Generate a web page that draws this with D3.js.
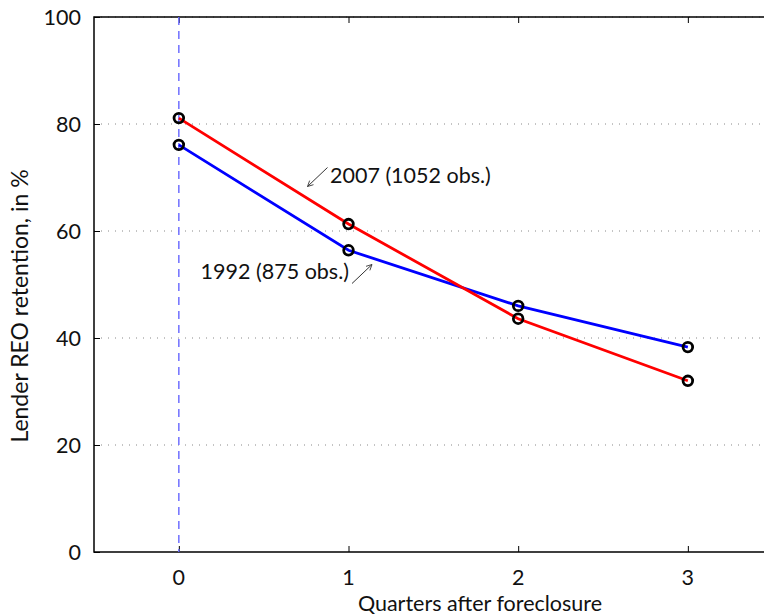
<!DOCTYPE html>
<html>
<head>
<meta charset="utf-8">
<script src="https://cdn.jsdelivr.net/npm/d3@7"></script>
<style>
  html, body { margin: 0; padding: 0; background: #fff; }
  svg { display: block; font-family: Lato, "DejaVu Sans", sans-serif; }
</style>
</head>
<body>
<svg id="chart" width="764" height="616"></svg>
<script>
// Quarters after foreclosure and lender REO retention (%)
const quarters = [0, 1, 2, 3];
const retention2007 = [81.1, 61.3, 43.6, 32.0];
const retention1992 = [76.1, 56.4, 46.0, 38.3];
const xTicks = [0, 1, 2, 3];
const yTicks = [0, 20, 40, 60, 80, 100];
const gridLevels = [20, 40, 60, 80, 100];

(function draw() {
  const svg = d3.select("#chart");
  const plotLeft = 94, plotRight = 866, plotTop = 17, plotBottom = 552;

  const x = d3.scaleLinear().domain([-0.5, 4.05]).range([plotLeft, plotRight]);
  const y = d3.scaleLinear().domain([0, 100]).range([plotBottom, plotTop]);

  // dotted horizontal grid
  svg.append("g").selectAll("line").data(gridLevels).join("line")
    .attr("x1", plotLeft).attr("x2", plotRight)
    .attr("y1", d => y(d)).attr("y2", d => y(d))
    .attr("stroke", "#888").attr("stroke-width", 1)
    .attr("stroke-dasharray", "1,6");

  // frame (left, bottom, top)
  svg.append("path")
    .attr("d", `M${plotRight},${plotTop}H${plotLeft}V${plotBottom}H${plotRight}`)
    .attr("fill", "none").attr("stroke", "#000").attr("stroke-width", 1.5);

  // axes with inward ticks
  const fs = "21.5px";
  const yAxis = svg.append("g").attr("transform", `translate(${plotLeft},0)`)
    .call(d3.axisRight(y).tickValues(yTicks).tickSize(6).tickFormat(""));
  yAxis.select(".domain").remove();
  yAxis.selectAll("line").attr("stroke", "#000");

  svg.append("g").selectAll("text").data(yTicks).join("text")
    .attr("x", plotLeft - 13).attr("y", d => y(d)).attr("dy", "0.36em")
    .attr("text-anchor", "end").style("font-size", fs).attr("fill", "#111")
    .text(d => d);

  const xAxisB = svg.append("g").attr("transform", `translate(0,${plotBottom})`)
    .call(d3.axisTop(x).tickValues(xTicks).tickSize(6).tickFormat(""));
  xAxisB.select(".domain").remove();
  xAxisB.selectAll("line").attr("stroke", "#000");

  const xAxisT = svg.append("g").attr("transform", `translate(0,${plotTop})`)
    .call(d3.axisBottom(x).tickValues(xTicks).tickSize(6).tickFormat(""));
  xAxisT.select(".domain").remove();
  xAxisT.selectAll("line").attr("stroke", "#000");

  svg.append("g").selectAll("text").data(xTicks).join("text")
    .attr("x", d => x(d)).attr("y", plotBottom + 33)
    .attr("text-anchor", "middle").style("font-size", fs).attr("fill", "#111")
    .text(d => d);

  // axis titles
  svg.append("text")
    .attr("x", (plotLeft + plotRight) / 2).attr("y", 611)
    .attr("text-anchor", "middle").style("font-size", fs).attr("fill", "#111")
    .text("Quarters after foreclosure");

  svg.append("text")
    .attr("transform", "translate(28,306) rotate(-90)")
    .attr("text-anchor", "middle").style("font-size", "23px").attr("fill", "#111")
    .text("Lender REO retention, in %");

  // foreclosure quarter marker
  svg.append("line")
    .attr("x1", x(0)).attr("x2", x(0)).attr("y1", plotTop).attr("y2", plotBottom)
    .attr("stroke", "#6f6fff").attr("stroke-width", 1.5)
    .attr("stroke-dasharray", "8,6");

  // series lines
  const line = d3.line().x((d, i) => x(quarters[i])).y(d => y(d));
  const series = [
    { values: retention1992, color: "#0000ff" },
    { values: retention2007, color: "#ff0000" }
  ];
  series.forEach(s => {
    svg.append("path").datum(s.values)
      .attr("d", line).attr("fill", "none")
      .attr("stroke", s.color).attr("stroke-width", 2.8);
  });
  series.forEach(s => {
    svg.append("g").selectAll("circle").data(s.values).join("circle")
      .attr("cx", (d, i) => x(quarters[i])).attr("cy", d => y(d))
      .attr("r", 4.8).attr("fill", "none")
      .attr("stroke", "#000").attr("stroke-width", 2.8);
  });

  // annotations with arrows
  const defs = svg.append("defs");
  defs.append("marker").attr("id", "arrowhead")
    .attr("viewBox", "0 0 10 10").attr("refX", 9).attr("refY", 5)
    .attr("markerWidth", 7).attr("markerHeight", 7).attr("orient", "auto")
    .append("path").attr("d", "M1,1 L9,5 L1,9").attr("fill", "none")
    .attr("stroke", "#333").attr("stroke-width", 1.2);

  svg.append("line")
    .attr("x1", 327.5).attr("y1", 167.5).attr("x2", 307.5).attr("y2", 186.5)
    .attr("stroke", "#333").attr("stroke-width", 1)
    .attr("marker-end", "url(#arrowhead)");
  svg.append("text").attr("x", 330).attr("y", 183)
    .style("font-size", fs).attr("fill", "#111")
    .text("2007 (1052 obs.)");

  svg.append("line")
    .attr("x1", 352).attr("y1", 283.5).attr("x2", 372).attr("y2", 264.5)
    .attr("stroke", "#333").attr("stroke-width", 1)
    .attr("marker-end", "url(#arrowhead)");
  svg.append("text").attr("x", 349).attr("y", 279)
    .attr("text-anchor", "end")
    .style("font-size", fs).attr("fill", "#111")
    .text("1992 (875 obs.)");
})();
</script>
</body>
</html>
